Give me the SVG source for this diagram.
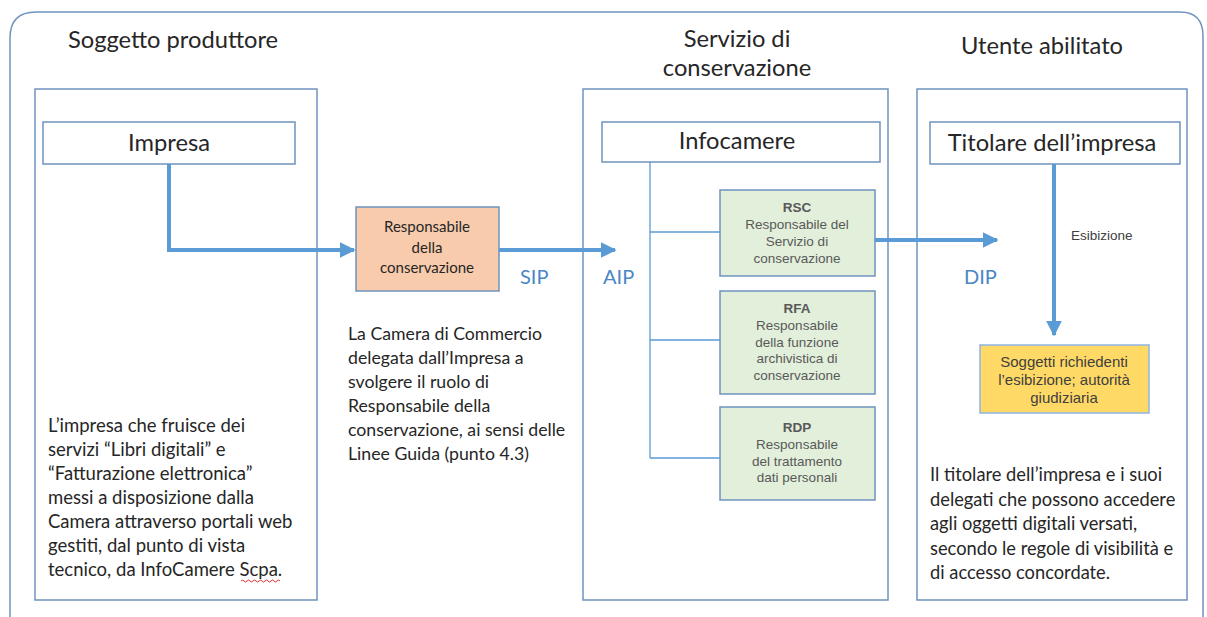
<svg xmlns="http://www.w3.org/2000/svg" width="1207" height="617" viewBox="0 0 1207 617">
<defs>
<marker id="ah" viewBox="0 0 10 10" refX="9" refY="5" markerWidth="4" markerHeight="4" orient="auto" markerUnits="strokeWidth">
<path d="M0,0 L10,5 L0,10 z" fill="#5b9bd5"/>
</marker>
<style>
.frame{fill:none;stroke:#6f93bd;stroke-width:1.5}
.col{fill:#fff;stroke:#6f93bd;stroke-width:1.5}
.hd{fill:#fff;stroke:#6f93bd;stroke-width:1.5}
.t{font-family:Lato,"Open Sans",sans-serif;fill:#262626}
.h{font-size:23.7px}
.s{font-family:"Liberation Sans",Arial,sans-serif;font-size:13.5px;fill:#595959}
.lbl{font-family:Lato,"Open Sans",sans-serif;font-size:20px;fill:#4a86c6}
.arr{fill:none;stroke:#5b9bd5;stroke-width:4;marker-end:url(#ah)}
.tree{fill:none;stroke:#5b9bd5;stroke-width:1.3}
.green{fill:#e2efda;stroke:#6f93bd;stroke-width:1.5}
</style>
</defs>
<rect width="1207" height="617" fill="#fff"/>
<path class="frame" d="M10,617 L10,38 Q10,12 36,12 L1180,12 Q1203,12 1203,36 L1203,617"/>

<text class="t h" x="68" y="48">Soggetto produttore</text>
<text class="t h" x="737" y="47" text-anchor="middle">Servizio di</text>
<text class="t h" x="737" y="76" text-anchor="middle">conservazione</text>
<text class="t h" x="1042" y="54" text-anchor="middle">Utente abilitato</text>

<g id="col-produttore">
<rect class="col" x="35" y="89" width="282" height="511"/>
<text class="t" font-size="18.5"><tspan x="48" y="432">L’impresa che fruisce dei</tspan><tspan x="48" y="456">servizi “Libri digitali” e</tspan><tspan x="48" y="480">“Fatturazione elettronica”</tspan><tspan x="48" y="504">messi a disposizione dalla</tspan><tspan x="48" y="528">Camera attraverso portali web</tspan><tspan x="48" y="552">gestiti, dal punto di vista</tspan><tspan x="48" y="576">tecnico, da InfoCamere Scpa.</tspan></text>
<path d="M241,581 q1.5,-2 3,0 t3,0 t3,0 t3,0 t3,0 t3,0 t3,0 t3,0 t3,0 t3,0 t3,0 t3,0 t3,0" fill="none" stroke="#e03030" stroke-width="1"/>
</g>
<g id="col-servizio">
<rect class="col" x="583" y="89" width="305" height="511"/>
</g>
<g id="col-utente">
<rect class="col" x="917" y="89" width="270" height="511"/>
<text class="t" font-size="18.3"><tspan x="930" y="481">Il titolare dell’impresa e i suoi</tspan><tspan x="930" y="505.5">delegati che possono accedere</tspan><tspan x="930" y="530">agli oggetti digitali versati,</tspan><tspan x="930" y="554.5">secondo le regole di visibilità e</tspan><tspan x="930" y="579">di accesso concordate.</tspan></text>
</g>

<g id="impresa">
<rect class="hd" x="43" y="122" width="252" height="42"/>
<text class="t h" x="169" y="151" text-anchor="middle">Impresa</text>
</g>
<g id="infocamere">
<rect class="hd" x="602" y="122" width="278" height="40"/>
<text class="t h" x="737" y="149" text-anchor="middle">Infocamere</text>
</g>
<g id="titolare">
<rect class="hd" x="930" y="122" width="250" height="42"/>
<text class="t h" x="1052" y="151" text-anchor="middle">Titolare dell’impresa</text>
</g>

<g id="responsabile">
<rect x="356" y="207" width="143" height="84" fill="#f8cbad" stroke="#6f93bd" stroke-width="1.5"/>
<text class="t" font-size="15" text-anchor="middle"><tspan x="427" y="232">Responsabile</tspan><tspan x="427" y="253">della</tspan><tspan x="427" y="273">conservazione</tspan></text>
</g>
<text id="nota-camera" class="t" font-size="17.7"><tspan x="348" y="340">La Camera di Commercio</tspan><tspan x="348" y="364">delegata dall’Impresa a</tspan><tspan x="348" y="388">svolgere il ruolo di</tspan><tspan x="348" y="412">Responsabile della</tspan><tspan x="348" y="436">conservazione, ai sensi delle</tspan><tspan x="348" y="460">Linee Guida (punto 4.3)</tspan></text>

<g id="rsc">
<rect class="green" x="720" y="190" width="155" height="86"/>
<text class="s" text-anchor="middle"><tspan x="797" y="212" font-weight="bold">RSC</tspan><tspan x="797" y="229">Responsabile del</tspan><tspan x="797" y="246">Servizio di</tspan><tspan x="797" y="263">conservazione</tspan></text>
</g>
<g id="rfa">
<rect class="green" x="720" y="291" width="155" height="103"/>
<text class="s" text-anchor="middle"><tspan x="797" y="313" font-weight="bold">RFA</tspan><tspan x="797" y="329.5">Responsabile</tspan><tspan x="797" y="346.5">della funzione</tspan><tspan x="797" y="363">archivistica di</tspan><tspan x="797" y="379.5">conservazione</tspan></text>
</g>
<g id="rdp">
<rect class="green" x="720" y="407" width="155" height="93"/>
<text class="s" text-anchor="middle"><tspan x="797" y="432" font-weight="bold">RDP</tspan><tspan x="797" y="448.5">Responsabile</tspan><tspan x="797" y="465.5">del trattamento</tspan><tspan x="797" y="482">dati personali</tspan></text>
</g>
<g id="soggetti">
<rect x="980" y="345" width="169" height="68" fill="#ffd966" stroke="#8eb4e3" stroke-width="1.5"/>
<text font-family="Liberation Sans,Arial,sans-serif" font-size="15" fill="#404040" text-anchor="middle"><tspan x="1064" y="367">Soggetti richiedenti</tspan><tspan x="1064" y="385">l’esibizione; autorità</tspan><tspan x="1064" y="403">giudiziaria</tspan></text>
</g>

<g id="connectors">
<path class="arr" d="M169,164 L169,250 L354,250"/>
<path class="arr" d="M499,250 L615,250"/>
<path class="arr" d="M875,240 L997,240"/>
<path class="arr" d="M1054,164 L1054,335"/>
<path class="tree" d="M650,162 L650,458 M650,232 L720,232 M650,340 L720,340 M650,458 L720,458"/>
<text class="lbl" x="520" y="284">SIP</text>
<text class="lbl" x="603" y="284">AIP</text>
<text class="lbl" x="964" y="284">DIP</text>
<text font-family="Liberation Sans,Arial,sans-serif" font-size="13.5" fill="#404040" x="1071" y="240">Esibizione</text>
</g>
</svg>
